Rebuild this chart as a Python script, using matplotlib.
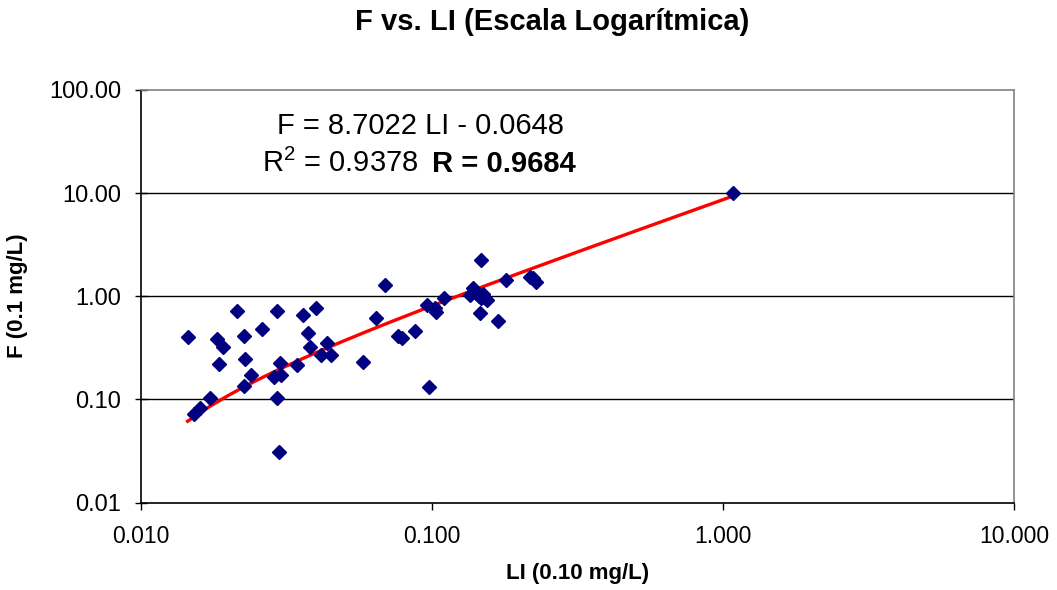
import numpy as np
import matplotlib
matplotlib.use("Agg")
import matplotlib.pyplot as plt
from matplotlib.ticker import FixedLocator, FixedFormatter, NullLocator

plt.rcParams['font.family'] = ['Liberation Sans', 'DejaVu Sans']

# LI (0.10 mg/L) vs F (0.1 mg/L)
li = [0.0145, 0.0152, 0.0160, 0.0173, 0.0183, 0.0186, 0.0191, 0.0215, 0.0226, 0.0226,
      0.0229, 0.0239, 0.0262, 0.0288, 0.0293, 0.0293, 0.0298, 0.0302, 0.0303, 0.0344,
      0.0361, 0.0377, 0.0382, 0.0400, 0.0416, 0.0436, 0.0451, 0.0580, 0.0643, 0.0692,
      0.0763, 0.0791, 0.0875, 0.0960, 0.0980, 0.1024, 0.1032, 0.1100,
      0.138, 0.142, 0.135, 0.145, 0.148, 0.152, 0.155, 0.150,
      0.148, 0.146, 0.169, 0.180, 0.217, 0.228, 0.222, 1.08]
f = [0.40, 0.072, 0.083, 0.102, 0.388, 0.22, 0.32, 0.72, 0.41, 0.135,
     0.248, 0.174, 0.48, 0.166, 0.72, 0.102, 0.031, 0.224, 0.171, 0.214,
     0.66, 0.44, 0.32, 0.77, 0.267, 0.35, 0.267, 0.23, 0.615, 1.29,
     0.41, 0.397, 0.465, 0.82, 0.133, 0.776, 0.70, 0.955,
     1.21, 1.08, 1.02, 1.00, 0.97, 0.97, 0.93, 1.05,
     2.24, 0.695, 0.58, 1.44, 1.53, 1.36, 1.50, 10.0]

# linear trend reported on the chart
slope = 8.7022
intercept = -0.0648

x_ticks = [0.01, 0.1, 1, 10]
x_labels = ["0.010", "0.100", "1.000", "10.000"]
y_ticks = [0.01, 0.1, 1, 10, 100]
y_labels = ["0.01", "0.10", "1.00", "10.00", "100.00"]

fig = plt.figure(figsize=(10.57, 5.90), dpi=100)
ax = fig.add_axes([140.7 / 1057, 1 - 502.5 / 590, (1014 - 140.7) / 1057, (502.5 - 90) / 590])

ax.set_xscale('log')
ax.set_yscale('log')
ax.set_xlim(0.01, 10)
ax.set_ylim(0.01, 100)

for yv in y_ticks[1:-1]:
    ax.axhline(yv, color='black', lw=1.0, zorder=1)

# trend line (straight in linear space, curved on log axes)
xt = np.linspace(min(li), max(li), 400)
ax.plot(xt, slope * xt + intercept, color='#ff0000', lw=2.4, zorder=2)

ax.plot(li, f, linestyle='none', marker='D', markersize=6.8,
        color='#000080', markeredgecolor='#000080', zorder=3)

ax.xaxis.set_major_locator(FixedLocator(x_ticks))
ax.xaxis.set_major_formatter(FixedFormatter(x_labels))
ax.xaxis.set_minor_locator(NullLocator())
ax.yaxis.set_major_locator(FixedLocator(y_ticks))
ax.yaxis.set_major_formatter(FixedFormatter(y_labels))
ax.yaxis.set_minor_locator(NullLocator())
ax.tick_params(axis='x', direction='out', length=5, width=1, labelsize=16.5, pad=11)
ax.tick_params(axis='y', direction='inout', length=8, width=1, labelsize=17, pad=10)

for side in ['top', 'right']:
    ax.spines[side].set_color('#808080')
    ax.spines[side].set_linewidth(1.2)
for side in ['left', 'bottom']:
    ax.spines[side].set_color('black')
    ax.spines[side].set_linewidth(1.2)

fig.text(552 / 1057, 1 - 22 / 590, "F vs. LI (Escala Logarítmica)", ha='center', va='center',
         fontsize=21, fontweight='bold')
fig.text(578 / 1057, 1 - 574 / 590, "LI (0.10 mg/L)", ha='center', va='center',
         fontsize=16, fontweight='bold')
fig.text(18 / 1057, 1 - 296 / 590, "F (0.1 mg/L)", ha='center', va='center',
         rotation=90, fontsize=16, fontweight='bold')

fig.text(277 / 1057, 1 - 134 / 590, "F = 8.7022 LI - 0.0648", ha='left', va='baseline',
         fontsize=21)
fig.text(262 / 1057, 1 - 172 / 590, r"R$^{\mathregular{2}}$ = 0.9378", ha='left', va='baseline',
         fontsize=21)
fig.text(432 / 1057, 1 - 172 / 590, "R = 0.9684", ha='left', va='baseline',
         fontsize=21, fontweight='bold')

fig.savefig("out.png", dpi=100)
